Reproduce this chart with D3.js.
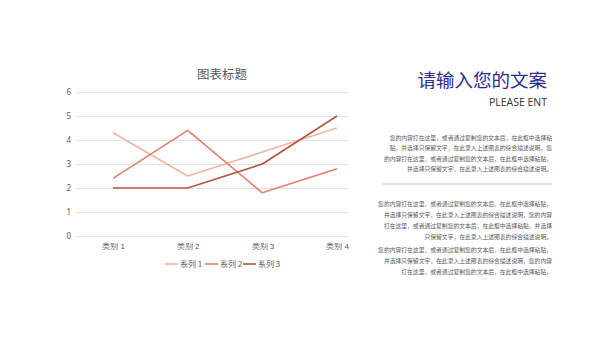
<!DOCTYPE html>
<html>
<head>
<meta charset="utf-8">
<script src="https://cdn.jsdelivr.net/npm/d3@7"></script>
<style>
  body { margin: 0; background: #fff; }
  svg { display: block; font-family: "Noto Sans CJK SC", "Noto Sans", sans-serif; }
</style>
</head>
<body>
<svg id="drawing_region"></svg>
<script>
// chart data
const categories = ['类别 1', '类别 2', '类别 3', '类别 4'];
const seriesNames = ['系列 1', '系列 2', '系列 3'];
const series1 = [4.3, 2.5, 3.5, 4.5];
const series2 = [2.4, 4.4, 1.8, 2.8];
const series3 = [2, 2, 3, 5];
const yticks = [0, 1, 2, 3, 4, 5, 6];
const colors = ['#f2b4a4', '#e0806a', '#b5543f'];

// right side text
const heading = '请输入您的文案';
const subheading = 'PLEASE ENT';
const para1 = [
    '您的内容打在这里，或者通过复制您的文本后，在此框中选择粘',
    '贴，并选择只保留文字，在此录入上述图表的综合描述说明，您',
    '的内容打在这里，或者通过复制您的文本后，在此框中选择粘贴，',
    '并选择只保留文字，在此录入上述图表的综合描述说明。'
];
const para2 = [
    '您的内容打在这里，或者通过复制您的文本后，在此框中选择粘贴，',
    '并选择只保留文字，在此录入上述图表的综合描述说明，您的内容',
    '打在这里，或者通过复制您的文本后，在此框中选择粘贴，并选择',
    '只保留文字，在此录入上述图表的综合描述说明。'
];
const para3 = [
    '您的内容打在这里，或者通过复制您的文本后，在此框中选择粘贴，',
    '并选择只保留文字，在此录入上述图表的综合描述说明，您的内容',
    '打在这里，或者通过复制您的文本后，在此框中选择粘贴，'
];

const svg = d3.select('#drawing_region')
    .attr('width', 600)
    .attr('height', 338);

const xscale = d3.scalePoint()
    .domain(categories)
    .range([113, 337]);

const yscale = d3.scaleLinear()
    .domain([0, 6])
    .range([236, 92]);

// title
svg.append('text')
    .attr('x', 222)
    .attr('y', 79)
    .attr('text-anchor', 'middle')
    .attr('font-size', 12.5)
    .attr('fill', '#595959')
    .text('图表标题');

// gridlines + y labels
const yaxis = d3.axisLeft(yscale)
    .tickValues(yticks)
    .tickSize(-272)
    .tickPadding(6)
    .tickFormat(d3.format('d'));

const yaxis_group = svg.append('g')
    .attr('transform', 'translate(76, 0)')
    .call(yaxis);
yaxis_group.select('.domain').remove();
yaxis_group.selectAll('line').attr('stroke', '#e3e3e3').attr('stroke-width', 1);
yaxis_group.selectAll('text')
    .attr('fill', '#595959')
    .attr('font-size', 8)
    .attr('x', -5)
    .style('font-family', '"Noto Sans", sans-serif');

// x labels
const xaxis = d3.axisBottom(xscale)
    .tickSize(0)
    .tickPadding(7);

const xaxis_group = svg.append('g')
    .attr('transform', 'translate(0, 236)')
    .call(xaxis);
xaxis_group.select('.domain').remove();
xaxis_group.selectAll('text')
    .attr('fill', '#595959')
    .attr('font-size', 8);

// lines
const allSeries = [series1, series2, series3];
const line = d3.line()
    .x((d, i) => xscale(categories[i]))
    .y(d => yscale(d));

svg.append('g')
    .selectAll('path')
    .data(allSeries)
    .join('path')
    .attr('d', d => line(d))
    .attr('fill', 'none')
    .attr('stroke', (d, i) => colors[i])
    .attr('stroke-width', 1.6)
    .attr('stroke-linejoin', 'round');

// legend
const legendX = [165, 205, 243];
const legend = svg.append('g')
    .selectAll('g')
    .data(seriesNames)
    .join('g')
    .attr('transform', (d, i) => `translate(${legendX[i]}, 264)`);

legend.append('line')
    .attr('x1', 0).attr('x2', 13)
    .attr('y1', 0).attr('y2', 0)
    .attr('stroke', (d, i) => colors[i])
    .attr('stroke-width', 1.6);

legend.append('text')
    .attr('x', 15)
    .attr('y', 3)
    .attr('font-size', 8)
    .attr('fill', '#595959')
    .text(d => d);

// right side
svg.append('text')
    .attr('x', 547)
    .attr('y', 87)
    .attr('text-anchor', 'end')
    .attr('font-size', 18.5)
    .attr('fill', '#2c2c8e')
    .text(heading);

svg.append('text')
    .attr('x', 547)
    .attr('y', 106)
    .attr('text-anchor', 'end')
    .attr('font-size', 10.5)
    .attr('fill', '#333333')
    .style('font-family', '"Open Sans", sans-serif')
    .text(subheading);

function paragraph(lines, top, step) {
    svg.append('g')
        .selectAll('text')
        .data(lines)
        .join('text')
        .attr('x', 552)
        .attr('y', (d, i) => top + i * step)
        .attr('text-anchor', 'end')
        .attr('font-size', 5.8)
        .attr('fill', '#595959')
        .text(d => d);
}

paragraph(para1, 140, 10.3);
paragraph(para2, 206, 11);
paragraph(para3, 252, 10.8);

svg.append('line')
    .attr('x1', 381).attr('x2', 552)
    .attr('y1', 184).attr('y2', 184)
    .attr('stroke', '#c8c8c8')
    .attr('stroke-width', 1);
</script>
</body>
</html>
